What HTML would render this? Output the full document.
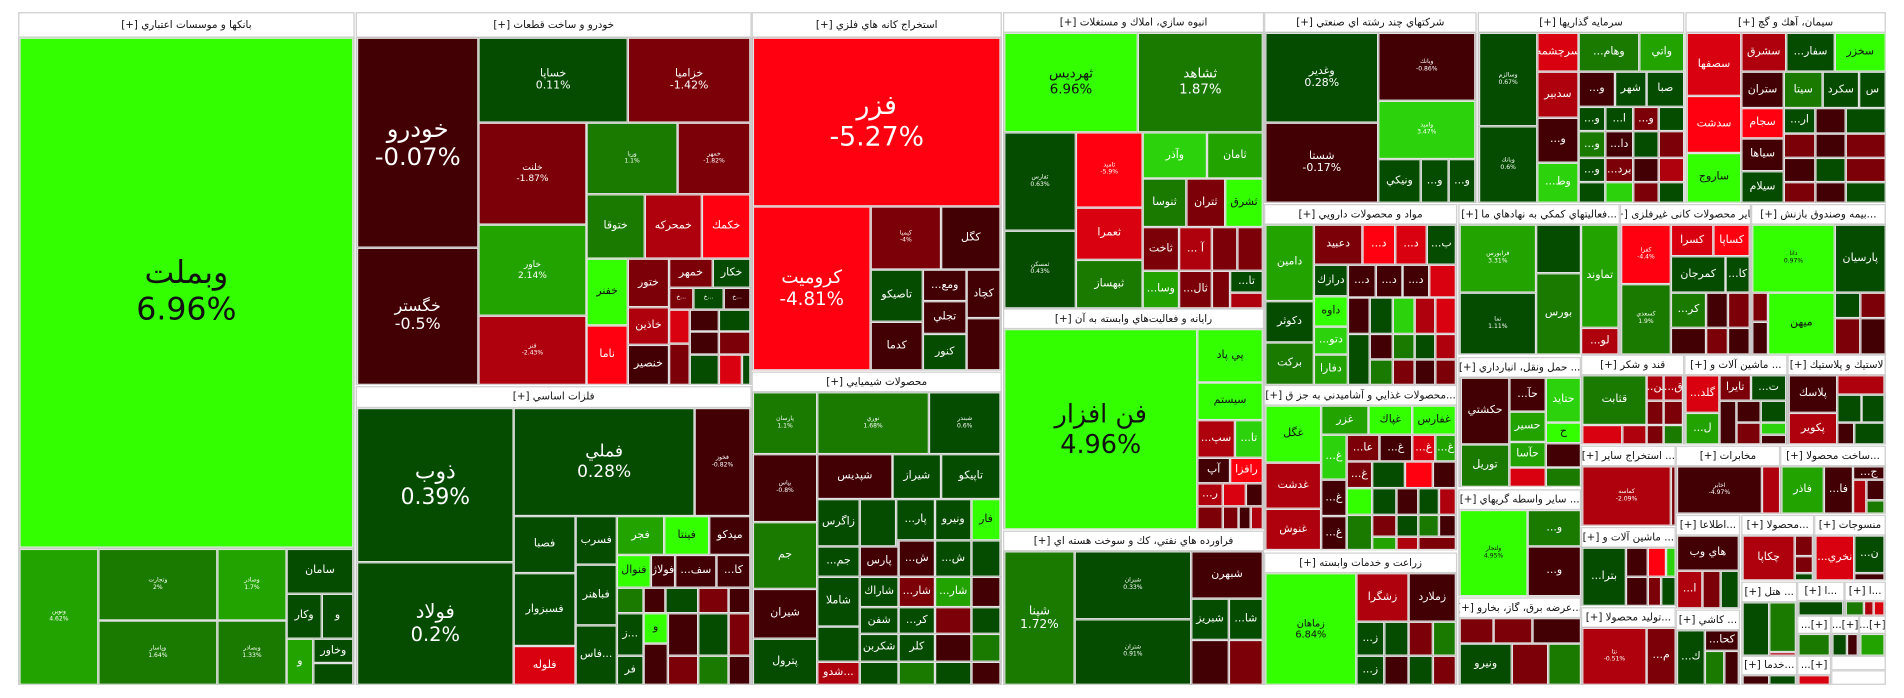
<!DOCTYPE html>
<html><head><meta charset="utf-8">
<style>
html,body{margin:0;padding:0;background:#fff;width:1904px;height:698px;overflow:hidden}
#w{position:absolute;left:0;top:0;width:1568px;height:575px;transform:scale(1.21429);transform-origin:0 0;font-family:"DejaVu Sans","Liberation Sans",sans-serif}
#w>div{position:absolute;box-sizing:border-box;left:calc(var(--a)*1px);top:calc(var(--b)*1px);width:calc((var(--c) - var(--a))*1px);height:calc((var(--d) - var(--b))*1px)}
.gp{background:#d4d4d4;border:1px solid #c8c8c8}
.h{background:#fff;border:1px solid #d0d0d0;color:#111;font-size:8.5px;display:flex;align-items:center;justify-content:center;direction:rtl;white-space:nowrap;overflow:hidden}
.t{border:1px solid #e2e2e2;color:#fff;display:flex;align-items:center;justify-content:center;text-align:center;overflow:hidden;font-size:9px;line-height:1.15;white-space:nowrap}
.t b{font-weight:normal}
.g1{background:#33ff00;color:#111}.g2{background:#2cd20c}.g3{background:#22a300}.g4{background:#1a7a00}.g5{background:#054c00}
.r1{background:#ff0011}.r2{background:#d9000f}.r3{background:#af000e}.r4{background:#7b0008}.r5{background:#420005}
.s{font-size:5px}
</style></head><body><div id="w">
<!-- group frames -->
<div class="gp" style="--a:15;--b:10;--c:292;--d:564"></div>
<div class="gp" style="--a:293;--b:10;--c:619;--d:317"></div>
<div class="gp" style="--a:293;--b:318;--c:619;--d:564"></div>
<div class="gp" style="--a:619;--b:10;--c:825;--d:305"></div>
<div class="gp" style="--a:619;--b:306;--c:825;--d:564"></div>
<div class="gp" style="--a:826;--b:10;--c:1041;--d:254"></div>
<div class="gp" style="--a:826;--b:254;--c:1041;--d:436"></div>
<div class="gp" style="--a:826;--b:437;--c:1041;--d:564"></div>
<div class="gp" style="--a:1041;--b:10;--c:1216;--d:167"></div>
<div class="gp" style="--a:1217;--b:10;--c:1387;--d:167"></div>
<div class="gp" style="--a:1388;--b:10;--c:1553;--d:167"></div>
<div class="gp" style="--a:1041;--b:168;--c:1200;--d:317"></div>
<div class="gp" style="--a:1041;--b:317;--c:1200;--d:453"></div>
<div class="gp" style="--a:1041;--b:455;--c:1200;--d:564"></div>
<div class="gp" style="--a:1201;--b:168;--c:1334;--d:292"></div>
<div class="gp" style="--a:1334;--b:168;--c:1442;--d:292"></div>
<div class="gp" style="--a:1442;--b:168;--c:1553;--d:292"></div>
<div class="gp" style="--a:1201;--b:294;--c:1302;--d:401"></div>
<div class="gp" style="--a:1201;--b:403;--c:1302;--d:491"></div>
<div class="gp" style="--a:1201;--b:492;--c:1302;--d:564"></div>
<div class="gp" style="--a:1302;--b:292;--c:1387;--d:366"></div>
<div class="gp" style="--a:1387;--b:292;--c:1472;--d:366"></div>
<div class="gp" style="--a:1472;--b:292;--c:1553;--d:366"></div>
<div class="gp" style="--a:1302;--b:367;--c:1380;--d:433"></div>
<div class="gp" style="--a:1380;--b:367;--c:1466;--d:423"></div>
<div class="gp" style="--a:1466;--b:367;--c:1553;--d:423"></div>
<div class="gp" style="--a:1302;--b:434;--c:1380;--d:499"></div>
<div class="gp" style="--a:1302;--b:500;--c:1380;--d:564"></div>
<div class="gp" style="--a:1380;--b:424;--c:1433;--d:501"></div>
<div class="gp" style="--a:1380;--b:502;--c:1433;--d:564"></div>
<div class="gp" style="--a:1434;--b:424;--c:1494;--d:478"></div>
<div class="gp" style="--a:1494;--b:424;--c:1553;--d:478"></div>
<div class="gp" style="--a:1434;--b:479;--c:1480;--d:540"></div>
<div class="gp" style="--a:1434;--b:540;--c:1480;--d:564"></div>
<div class="gp" style="--a:1480;--b:479;--c:1519;--d:507"></div>
<div class="gp" style="--a:1519;--b:479;--c:1553;--d:507"></div>
<div class="gp" style="--a:1480;--b:507;--c:1508;--d:540"></div>
<div class="gp" style="--a:1508;--b:507;--c:1531;--d:540"></div>
<div class="gp" style="--a:1531;--b:507;--c:1553;--d:540"></div>
<div class="gp" style="--a:1480;--b:540;--c:1508;--d:564"></div>
<div class="gp" style="--a:1508;--b:540;--c:1553;--d:564"></div>

<!-- headers -->
<div class="h" style="--a:15;--b:10;--c:292;--d:31">بانكها و موسسات اعتباري [+]</div>
<div class="h" style="--a:293;--b:10;--c:619;--d:31">خودرو و ساخت قطعات [+]</div>
<div class="h" style="--a:293;--b:318;--c:619;--d:336">فلزات اساسي [+]</div>
<div class="h" style="--a:619;--b:10;--c:825;--d:31">استخراج كانه هاي فلزي [+]</div>
<div class="h" style="--a:619;--b:306;--c:825;--d:323">محصولات شيميايي [+]</div>
<div class="h" style="--a:826;--b:10;--c:1041;--d:27">انبوه سازي، املاك و مستغلات [+]</div>
<div class="h" style="--a:826;--b:254;--c:1041;--d:271">رايانه و فعاليت‌هاي وابسته به آن [+]</div>
<div class="h" style="--a:826;--b:437;--c:1041;--d:454">فراورده هاي نفتي، كك و سوخت هسته اي [+]</div>
<div class="h" style="--a:1041;--b:10;--c:1216;--d:27">شركتهاي چند رشته اي صنعتي [+]</div>
<div class="h" style="--a:1217;--b:10;--c:1387;--d:27">سرمايه گذاريها [+]</div>
<div class="h" style="--a:1388;--b:10;--c:1553;--d:27">سيمان، آهك و گچ [+]</div>
<div class="h" style="--a:1041;--b:168;--c:1200;--d:185">مواد و محصولات دارويي [+]</div>
<div class="h" style="--a:1041;--b:317;--c:1200;--d:334">...محصولات غذايي و آشاميدني به جز ق [+]</div>
<div class="h" style="--a:1041;--b:455;--c:1200;--d:472">زراعت و خدمات وابسته [+]</div>
<div class="h" style="--a:1201;--b:168;--c:1334;--d:185">...فعاليتهاي كمكي به نهادهاي ما [+]</div>
<div class="h" style="--a:1334;--b:168;--c:1442;--d:185">سایر محصولات کانی غیرفلزی [+]</div>
<div class="h" style="--a:1442;--b:168;--c:1553;--d:185">...بيمه وصندوق بازنش [+]</div>
<div class="h" style="--a:1201;--b:294;--c:1302;--d:311">... حمل ونقل، انبارداري [+]</div>
<div class="h" style="--a:1201;--b:403;--c:1302;--d:420">... ساير واسطه گريهاي [+]</div>
<div class="h" style="--a:1201;--b:492;--c:1302;--d:509">...عرضه برق، گاز، بخارو [+]</div>
<div class="h" style="--a:1302;--b:292;--c:1387;--d:309">قند و شكر [+]</div>
<div class="h" style="--a:1387;--b:292;--c:1472;--d:309">... ماشين آلات و [+]</div>
<div class="h" style="--a:1472;--b:292;--c:1553;--d:309">لاستيك و پلاستيك [+]</div>
<div class="h" style="--a:1302;--b:367;--c:1380;--d:384">... استخراج ساير [+]</div>
<div class="h" style="--a:1380;--b:367;--c:1466;--d:384">مخابرات [+]</div>
<div class="h" style="--a:1466;--b:367;--c:1553;--d:384">...ساخت محصولا [+]</div>
<div class="h" style="--a:1302;--b:434;--c:1380;--d:451">... ماشين آلات و [+]</div>
<div class="h" style="--a:1302;--b:500;--c:1380;--d:517">...توليد محصولا [+]</div>
<div class="h" style="--a:1380;--b:424;--c:1433;--d:441">...اطلاعا [+]</div>
<div class="h" style="--a:1380;--b:502;--c:1433;--d:519">... كاشي [+]</div>
<div class="h" style="--a:1434;--b:424;--c:1494;--d:441">...محصولا [+]</div>
<div class="h" style="--a:1494;--b:424;--c:1553;--d:441">منسوجات [+]</div>
<div class="h" style="--a:1434;--b:479;--c:1480;--d:496">... هتل [+]</div>
<div class="h" style="--a:1434;--b:540;--c:1480;--d:556">...خدما [+]</div>
<div class="h" style="--a:1480;--b:479;--c:1519;--d:495">...ا [+]</div>
<div class="h" style="--a:1519;--b:479;--c:1553;--d:495">...ا [+]</div>
<div class="h" style="--a:1480;--b:507;--c:1508;--d:522">[+]...</div>
<div class="h" style="--a:1508;--b:507;--c:1531;--d:522">[+]...</div>
<div class="h" style="--a:1531;--b:507;--c:1553;--d:522">[+]...</div>
<div class="h" style="--a:1480;--b:540;--c:1508;--d:556">[+]...</div>
<div class="h" style="--a:1508;--b:540;--c:1553;--d:552"></div>
<div class="h" style="--a:1508;--b:552;--c:1553;--d:564"></div>

<!-- banks -->
<div class="t g1" style="--a:16;--b:31;--c:291;--d:451"><b style="font-size:26px">وبملت<br>6.96%</b></div>
<div class="t g3 s" style="--a:16;--b:452;--c:81;--d:564">ونوين<br>4.62%</div>
<div class="t g4 s" style="--a:81;--b:452;--c:179;--d:511">وتجارت<br>2%</div>
<div class="t g4 s" style="--a:81;--b:511;--c:179;--d:564">وپاسار<br>1.64%</div>
<div class="t g3 s" style="--a:179;--b:452;--c:236;--d:511">وصادر<br>1.7%</div>
<div class="t g4 s" style="--a:179;--b:511;--c:236;--d:564">وبصادر<br>1.33%</div>
<div class="t g5" style="--a:236;--b:452;--c:291;--d:489">سامان</div>
<div class="t g5" style="--a:236;--b:489;--c:265;--d:526">وكار</div>
<div class="t g5" style="--a:265;--b:489;--c:291;--d:526">و</div>
<div class="t g3" style="--a:236;--b:526;--c:258;--d:564">و</div>
<div class="t g5" style="--a:258;--b:526;--c:291;--d:546">وخاور</div>
<div class="t g5" style="--a:258;--b:546;--c:291;--d:564"></div>

<!-- auto -->
<div class="t r5" style="--a:294;--b:31;--c:394;--d:204"><b style="font-size:20px">خودرو<br>-0.07%</b></div>
<div class="t r5" style="--a:294;--b:204;--c:394;--d:317"><b style="font-size:13px">خگستر<br>-0.5%</b></div>
<div class="t g5" style="--a:394;--b:31;--c:517;--d:101">خساپا<br>0.11%</div>
<div class="t r4" style="--a:517;--b:31;--c:618;--d:101">خزاميا<br>-1.42%</div>
<div class="t r4" style="--a:394;--b:101;--c:483;--d:185"><b style="font-size:7.5px">خلنت<br>-1.87%</b></div>
<div class="t g3" style="--a:394;--b:185;--c:483;--d:260"><b style="font-size:7.5px">خاور<br>2.14%</b></div>
<div class="t r3 s" style="--a:394;--b:260;--c:483;--d:317">فنر<br>-2.43%</div>
<div class="t g4 s" style="--a:483;--b:101;--c:558;--d:160">وريا<br>1.1%</div>
<div class="t r4 s" style="--a:558;--b:101;--c:618;--d:160">خمهر<br>-1.82%</div>
<div class="t g4" style="--a:483;--b:160;--c:531;--d:213">ختوقا</div>
<div class="t r3" style="--a:531;--b:160;--c:578;--d:213">خمحركه</div>
<div class="t r1" style="--a:578;--b:160;--c:618;--d:213">خكمك</div>
<div class="t g1" style="--a:483;--b:213;--c:517;--d:268">خفنر</div>
<div class="t r1" style="--a:483;--b:268;--c:517;--d:317">ناما</div>
<div class="t r4" style="--a:517;--b:213;--c:551;--d:253">ختور</div>
<div class="t r3" style="--a:517;--b:253;--c:551;--d:284">خاذين</div>
<div class="t r5" style="--a:517;--b:284;--c:551;--d:317">خنصير</div>
<div class="t r4" style="--a:551;--b:213;--c:587;--d:237">خمهر</div>
<div class="t g5" style="--a:587;--b:213;--c:618;--d:237">خكار</div>
<div class="t r4 s" style="--a:551;--b:237;--c:571;--d:255">خ...</div>
<div class="t g5 s" style="--a:571;--b:237;--c:596;--d:255">خ...</div>
<div class="t r5 s" style="--a:596;--b:237;--c:618;--d:255">خ...</div>
<div class="t r2" style="--a:551;--b:255;--c:568;--d:283"></div>
<div class="t r5" style="--a:568;--b:255;--c:592;--d:273"></div>
<div class="t g5" style="--a:592;--b:255;--c:618;--d:273"></div>
<div class="t r5" style="--a:568;--b:273;--c:592;--d:292"></div>
<div class="t r4" style="--a:592;--b:273;--c:618;--d:292"></div>
<div class="t r4" style="--a:551;--b:283;--c:568;--d:317"></div>
<div class="t g5" style="--a:568;--b:292;--c:592;--d:317"></div>
<div class="t r2" style="--a:592;--b:292;--c:611;--d:317"></div>
<div class="t g5" style="--a:611;--b:292;--c:618;--d:317"></div>

<!-- metals -->
<div class="t g5" style="--a:294;--b:336;--c:423;--d:463"><b style="font-size:18px">ذوب<br>0.39%</b></div>
<div class="t g5" style="--a:294;--b:463;--c:423;--d:564"><b style="font-size:16px">فولاد<br>0.2%</b></div>
<div class="t g5" style="--a:423;--b:336;--c:572;--d:425"><b style="font-size:14px">فملي<br>0.28%</b></div>
<div class="t r5 s" style="--a:572;--b:336;--c:618;--d:425">فخوز<br>-0.82%</div>
<div class="t g5" style="--a:423;--b:425;--c:474;--d:472">فصبا</div>
<div class="t g5" style="--a:423;--b:472;--c:474;--d:532">فسبزوار</div>
<div class="t r2" style="--a:423;--b:532;--c:474;--d:564">فلوله</div>
<div class="t g5" style="--a:474;--b:425;--c:508;--d:465">فسرب</div>
<div class="t g5" style="--a:474;--b:465;--c:508;--d:515">فباهنر</div>
<div class="t g5" style="--a:474;--b:515;--c:508;--d:564">فاس...</div>
<div class="t g3" style="--a:508;--b:425;--c:547;--d:457">فجر</div>
<div class="t g1" style="--a:547;--b:425;--c:584;--d:457">فينتا</div>
<div class="t r5" style="--a:584;--b:425;--c:618;--d:457">ميدكو</div>
<div class="t g1" style="--a:508;--b:457;--c:536;--d:484">فنوال</div>
<div class="t r5" style="--a:536;--b:457;--c:556;--d:484">فولاژ</div>
<div class="t r5" style="--a:556;--b:457;--c:590;--d:484">...سف</div>
<div class="t r5" style="--a:590;--b:457;--c:618;--d:484">...كا</div>
<div class="t g4" style="--a:508;--b:484;--c:530;--d:505"></div>
<div class="t r5" style="--a:530;--b:484;--c:548;--d:505"></div>
<div class="t g5" style="--a:548;--b:484;--c:575;--d:505"></div>
<div class="t r4" style="--a:575;--b:484;--c:600;--d:505"></div>
<div class="t r5" style="--a:600;--b:484;--c:618;--d:505"></div>
<div class="t g5" style="--a:508;--b:505;--c:530;--d:540">ز...</div>
<div class="t g1" style="--a:530;--b:505;--c:550;--d:530">و</div>
<div class="t r5" style="--a:550;--b:505;--c:575;--d:540"></div>
<div class="t g5" style="--a:575;--b:505;--c:600;--d:540"></div>
<div class="t r4" style="--a:600;--b:505;--c:618;--d:540"></div>
<div class="t g5" style="--a:508;--b:540;--c:530;--d:564">فر</div>
<div class="t r5" style="--a:530;--b:530;--c:550;--d:564"></div>
<div class="t r4" style="--a:550;--b:540;--c:575;--d:564"></div>
<div class="t g4" style="--a:575;--b:540;--c:600;--d:564"></div>
<div class="t r5" style="--a:600;--b:540;--c:618;--d:564"></div>

<!-- mining -->
<div class="t r1" style="--a:620;--b:31;--c:824;--d:170"><b style="font-size:22px">فزر<br>-5.27%</b></div>
<div class="t r1" style="--a:620;--b:170;--c:717;--d:305"><b style="font-size:15px">كروميت<br>-4.81%</b></div>
<div class="t r4 s" style="--a:717;--b:170;--c:775;--d:222">كيميا<br>-4%</div>
<div class="t r5" style="--a:775;--b:170;--c:824;--d:222">كگل</div>
<div class="t g5" style="--a:717;--b:222;--c:760;--d:265">تاصيكو</div>
<div class="t r5" style="--a:760;--b:222;--c:796;--d:248">...ومع</div>
<div class="t r5" style="--a:796;--b:222;--c:824;--d:262">كچاد</div>
<div class="t r5" style="--a:760;--b:248;--c:796;--d:275">تجلي</div>
<div class="t r5" style="--a:717;--b:265;--c:760;--d:305">كدما</div>
<div class="t g5" style="--a:760;--b:275;--c:796;--d:305">كنور</div>
<div class="t r5" style="--a:796;--b:262;--c:824;--d:305"></div>

<!-- chemicals -->
<div class="t g4 s" style="--a:620;--b:323;--c:673;--d:374">پارسان<br>1.1%</div>
<div class="t g4 s" style="--a:673;--b:323;--c:765;--d:374">نوري<br>1.68%</div>
<div class="t g5 s" style="--a:765;--b:323;--c:824;--d:374">شبندر<br>0.6%</div>
<div class="t r5 s" style="--a:620;--b:374;--c:673;--d:430">بپاس<br>-0.8%</div>
<div class="t g4" style="--a:620;--b:430;--c:673;--d:485">جم</div>
<div class="t r5" style="--a:620;--b:485;--c:673;--d:526">شيران</div>
<div class="t g5" style="--a:620;--b:526;--c:673;--d:564">پترول</div>
<div class="t r5" style="--a:673;--b:374;--c:735;--d:411">شپديس</div>
<div class="t g5" style="--a:735;--b:374;--c:775;--d:411">شيراز</div>
<div class="t g5" style="--a:775;--b:374;--c:824;--d:411">تاپيكو</div>
<div class="t g5" style="--a:673;--b:411;--c:708;--d:450">زاگرس</div>
<div class="t g5" style="--a:708;--b:411;--c:738;--d:450"></div>
<div class="t g5" style="--a:738;--b:411;--c:770;--d:445">...پار</div>
<div class="t g5" style="--a:770;--b:411;--c:800;--d:445">ونيرو</div>
<div class="t g1" style="--a:800;--b:411;--c:824;--d:445">فار</div>
<div class="t g5" style="--a:673;--b:450;--c:708;--d:475">...جم</div>
<div class="t g5" style="--a:673;--b:475;--c:708;--d:516">شاملا</div>
<div class="t g5" style="--a:673;--b:516;--c:708;--d:545"></div>
<div class="t r3" style="--a:673;--b:545;--c:708;--d:564">شدو...</div>
<div class="t r5" style="--a:708;--b:450;--c:740;--d:475">پارس</div>
<div class="t g5" style="--a:708;--b:475;--c:740;--d:500">شاراك</div>
<div class="t g5" style="--a:708;--b:500;--c:740;--d:522">شفن</div>
<div class="t g5" style="--a:708;--b:522;--c:740;--d:545">شكربن</div>
<div class="t g5" style="--a:708;--b:545;--c:740;--d:564"></div>
<div class="t r5" style="--a:740;--b:445;--c:770;--d:475">...ش</div>
<div class="t g5" style="--a:770;--b:445;--c:800;--d:475">...ش</div>
<div class="t g5" style="--a:800;--b:445;--c:824;--d:475"></div>
<div class="t r4" style="--a:740;--b:475;--c:770;--d:500">...شار</div>
<div class="t g3" style="--a:770;--b:475;--c:800;--d:500">...شار</div>
<div class="t r5" style="--a:800;--b:475;--c:824;--d:500"></div>
<div class="t g5" style="--a:740;--b:500;--c:770;--d:522">...كر</div>
<div class="t r4" style="--a:770;--b:500;--c:800;--d:522"></div>
<div class="t g5" style="--a:800;--b:500;--c:824;--d:522"></div>
<div class="t g5" style="--a:740;--b:522;--c:770;--d:545">كلر</div>
<div class="t r5" style="--a:770;--b:522;--c:800;--d:545"></div>
<div class="t g4" style="--a:800;--b:522;--c:824;--d:545"></div>
<div class="t g4" style="--a:740;--b:545;--c:770;--d:564"></div>
<div class="t g5" style="--a:770;--b:545;--c:800;--d:564"></div>
<div class="t r5" style="--a:800;--b:545;--c:824;--d:564"></div>

<!-- housing -->
<div class="t g1" style="--a:827;--b:27;--c:937;--d:109"><b style="font-size:11px">ثهرديس<br>6.96%</b></div>
<div class="t g4" style="--a:937;--b:27;--c:1040;--d:109"><b style="font-size:11px">ثشاهد<br>1.87%</b></div>
<div class="t g5 s" style="--a:827;--b:109;--c:886;--d:190">ثفارس<br>0.63%</div>
<div class="t g5 s" style="--a:827;--b:190;--c:886;--d:254">ثمسكن<br>0.43%</div>
<div class="t r1 s" style="--a:886;--b:109;--c:941;--d:171">ثامید<br>-5.9%</div>
<div class="t r2" style="--a:886;--b:171;--c:941;--d:214">ثعمرا</div>
<div class="t g4" style="--a:886;--b:214;--c:941;--d:254">ثبهساز</div>
<div class="t g2" style="--a:941;--b:109;--c:994;--d:147">وآذر</div>
<div class="t g3" style="--a:994;--b:109;--c:1040;--d:147">ثامان</div>
<div class="t g4" style="--a:941;--b:147;--c:977;--d:187">ثنوسا</div>
<div class="t r4" style="--a:977;--b:147;--c:1009;--d:187">ثتران</div>
<div class="t g1" style="--a:1009;--b:147;--c:1040;--d:187">ثشرق</div>
<div class="t r4" style="--a:941;--b:187;--c:971;--d:223">ثاخت</div>
<div class="t r3" style="--a:971;--b:187;--c:998;--d:223">... آ</div>
<div class="t r4" style="--a:998;--b:187;--c:1019;--d:223"></div>
<div class="t r4" style="--a:1019;--b:187;--c:1040;--d:223"></div>
<div class="t g3" style="--a:941;--b:223;--c:971;--d:254">...وسا</div>
<div class="t r4" style="--a:971;--b:223;--c:998;--d:254">...ثال</div>
<div class="t r4" style="--a:998;--b:223;--c:1013;--d:254"></div>
<div class="t g5" style="--a:1013;--b:223;--c:1040;--d:241">...تا</div>
<div class="t r3" style="--a:1013;--b:241;--c:1040;--d:254"></div>

<!-- rayane -->
<div class="t g1" style="--a:827;--b:271;--c:986;--d:436"><b style="font-size:21px">فن افزار<br>4.96%</b></div>
<div class="t g1" style="--a:986;--b:271;--c:1040;--d:315">پي پاد</div>
<div class="t g1" style="--a:986;--b:315;--c:1040;--d:346">سيستم</div>
<div class="t r3" style="--a:986;--b:346;--c:1017;--d:377">...سپ</div>
<div class="t g2" style="--a:1017;--b:346;--c:1040;--d:377">...تا</div>
<div class="t r5" style="--a:986;--b:377;--c:1013;--d:398">آپ</div>
<div class="t r1" style="--a:1013;--b:377;--c:1040;--d:398">رافزا</div>
<div class="t r3" style="--a:986;--b:398;--c:1007;--d:417">...ر</div>
<div class="t r2" style="--a:1007;--b:398;--c:1026;--d:417"></div>
<div class="t r5" style="--a:1026;--b:398;--c:1040;--d:417"></div>
<div class="t r4" style="--a:986;--b:417;--c:1007;--d:436"></div>
<div class="t r4" style="--a:1007;--b:417;--c:1020;--d:436"></div>
<div class="t r5" style="--a:1020;--b:417;--c:1030;--d:436"></div>
<div class="t r3" style="--a:1030;--b:417;--c:1040;--d:436"></div>

<!-- oil -->
<div class="t g4" style="--a:827;--b:454;--c:885;--d:564"><b style="font-size:10px">شپنا<br>1.72%</b></div>
<div class="t g5 s" style="--a:885;--b:454;--c:981;--d:510">شبران<br>0.33%</div>
<div class="t g5 s" style="--a:885;--b:510;--c:981;--d:564">شتران<br>0.91%</div>
<div class="t r5" style="--a:981;--b:454;--c:1040;--d:493">شبهرن</div>
<div class="t g5" style="--a:981;--b:493;--c:1012;--d:527">شبريز</div>
<div class="t g5" style="--a:1012;--b:493;--c:1040;--d:527">...شا</div>
<div class="t r5" style="--a:981;--b:527;--c:1012;--d:564"></div>
<div class="t r4" style="--a:1012;--b:527;--c:1040;--d:564"></div>

<!-- multi -->
<div class="t g5" style="--a:1042;--b:27;--c:1135;--d:101">وغدير<br>0.28%</div>
<div class="t r5 s" style="--a:1135;--b:27;--c:1215;--d:83">وبانك<br>-0.86%</div>
<div class="t r5" style="--a:1042;--b:101;--c:1135;--d:167">شستا<br>-0.17%</div>
<div class="t g2 s" style="--a:1135;--b:83;--c:1215;--d:131">واميد<br>3.47%</div>
<div class="t g5" style="--a:1135;--b:131;--c:1170;--d:167">ونيكي</div>
<div class="t g5" style="--a:1170;--b:131;--c:1193;--d:167">...و</div>
<div class="t g5" style="--a:1193;--b:131;--c:1215;--d:167">...و</div>

<!-- invest -->
<div class="t g5 s" style="--a:1218;--b:27;--c:1266;--d:104">وسالزم<br>0.67%</div>
<div class="t g5 s" style="--a:1218;--b:104;--c:1266;--d:167">وبانك<br>0.6%</div>
<div class="t r2" style="--a:1266;--b:27;--c:1300;--d:59">سرچشمه</div>
<div class="t g4" style="--a:1300;--b:27;--c:1350;--d:59">...وهام</div>
<div class="t g3" style="--a:1350;--b:27;--c:1387;--d:59">واتي</div>
<div class="t r3" style="--a:1266;--b:59;--c:1300;--d:97">سدبير</div>
<div class="t r5" style="--a:1300;--b:59;--c:1330;--d:88">...و</div>
<div class="t g5" style="--a:1330;--b:59;--c:1356;--d:88">شهر</div>
<div class="t g5" style="--a:1356;--b:59;--c:1387;--d:88">صبا</div>
<div class="t r5" style="--a:1266;--b:97;--c:1300;--d:134">...و</div>
<div class="t g2" style="--a:1266;--b:134;--c:1300;--d:167">...وط</div>
<div class="t g5" style="--a:1300;--b:88;--c:1322;--d:108">...و</div>
<div class="t g5" style="--a:1322;--b:88;--c:1345;--d:108">...ا</div>
<div class="t r4" style="--a:1345;--b:88;--c:1366;--d:108">...و</div>
<div class="t g5" style="--a:1366;--b:88;--c:1387;--d:108"></div>
<div class="t g4" style="--a:1300;--b:108;--c:1322;--d:130">...و</div>
<div class="t r5" style="--a:1322;--b:108;--c:1345;--d:130">...دا</div>
<div class="t g5" style="--a:1345;--b:108;--c:1366;--d:130"></div>
<div class="t r4" style="--a:1366;--b:108;--c:1387;--d:130"></div>
<div class="t g5" style="--a:1300;--b:130;--c:1322;--d:150">...و</div>
<div class="t r4" style="--a:1322;--b:130;--c:1345;--d:150">...برد</div>
<div class="t r5" style="--a:1345;--b:130;--c:1366;--d:150"></div>
<div class="t r3" style="--a:1366;--b:130;--c:1387;--d:150"></div>
<div class="t g5" style="--a:1300;--b:150;--c:1322;--d:167"></div>
<div class="t g2" style="--a:1322;--b:150;--c:1345;--d:167"></div>
<div class="t r4" style="--a:1345;--b:150;--c:1366;--d:167"></div>
<div class="t g5" style="--a:1366;--b:150;--c:1387;--d:167"></div>

<!-- cement -->
<div class="t r2" style="--a:1389;--b:27;--c:1434;--d:79">سصفها</div>
<div class="t r3" style="--a:1434;--b:27;--c:1471;--d:59">سشرق</div>
<div class="t g5" style="--a:1471;--b:27;--c:1511;--d:59">...سفار</div>
<div class="t g1" style="--a:1511;--b:27;--c:1553;--d:59">سخزر</div>
<div class="t r5" style="--a:1434;--b:59;--c:1469;--d:89">ستران</div>
<div class="t g4" style="--a:1469;--b:59;--c:1501;--d:89">سيتا</div>
<div class="t g5" style="--a:1501;--b:59;--c:1531;--d:89">سكرد</div>
<div class="t g5" style="--a:1531;--b:59;--c:1553;--d:89">س</div>
<div class="t r1" style="--a:1389;--b:79;--c:1434;--d:126">سدشت</div>
<div class="t g1" style="--a:1389;--b:126;--c:1434;--d:167">ساروج</div>
<div class="t r1" style="--a:1434;--b:89;--c:1469;--d:114">سجام</div>
<div class="t r5" style="--a:1434;--b:114;--c:1469;--d:141">سياها</div>
<div class="t g5" style="--a:1434;--b:141;--c:1469;--d:167">سيلام</div>
<div class="t g5" style="--a:1469;--b:89;--c:1495;--d:110">...ار</div>
<div class="t r5" style="--a:1495;--b:89;--c:1520;--d:110"></div>
<div class="t g5" style="--a:1520;--b:89;--c:1553;--d:110"></div>
<div class="t r4" style="--a:1469;--b:110;--c:1495;--d:130"></div>
<div class="t r5" style="--a:1495;--b:110;--c:1520;--d:130"></div>
<div class="t r4" style="--a:1520;--b:110;--c:1553;--d:130"></div>
<div class="t r5" style="--a:1469;--b:130;--c:1495;--d:150"></div>
<div class="t g5" style="--a:1495;--b:130;--c:1520;--d:150"></div>
<div class="t r4" style="--a:1520;--b:130;--c:1553;--d:150"></div>
<div class="t r4" style="--a:1469;--b:150;--c:1495;--d:167"></div>
<div class="t r5" style="--a:1495;--b:150;--c:1520;--d:167"></div>
<div class="t g5" style="--a:1520;--b:150;--c:1553;--d:167"></div>

<!-- pharma -->
<div class="t g3" style="--a:1042;--b:185;--c:1082;--d:248">دامين</div>
<div class="t g5" style="--a:1042;--b:248;--c:1082;--d:282">دكوثر</div>
<div class="t g4" style="--a:1042;--b:282;--c:1082;--d:317">بركت</div>
<div class="t r4" style="--a:1082;--b:185;--c:1122;--d:218">دعبيد</div>
<div class="t r1" style="--a:1122;--b:185;--c:1149;--d:218">...د</div>
<div class="t r2" style="--a:1149;--b:185;--c:1175;--d:218">...د</div>
<div class="t g5" style="--a:1175;--b:185;--c:1199;--d:218">...ب</div>
<div class="t g5" style="--a:1082;--b:218;--c:1110;--d:244">درازك</div>
<div class="t g1" style="--a:1082;--b:244;--c:1110;--d:269">داوه</div>
<div class="t g2" style="--a:1082;--b:269;--c:1110;--d:292">...دتو</div>
<div class="t g3" style="--a:1082;--b:292;--c:1110;--d:317">دفارا</div>
<div class="t r5" style="--a:1110;--b:218;--c:1133;--d:245">...د</div>
<div class="t r5" style="--a:1133;--b:218;--c:1155;--d:245">...د</div>
<div class="t r5" style="--a:1155;--b:218;--c:1177;--d:245">...د</div>
<div class="t r2" style="--a:1177;--b:218;--c:1199;--d:245"></div>
<div class="t r5" style="--a:1110;--b:245;--c:1128;--d:275"></div>
<div class="t g5" style="--a:1128;--b:245;--c:1147;--d:275"></div>
<div class="t g2" style="--a:1147;--b:245;--c:1165;--d:275"></div>
<div class="t r3" style="--a:1165;--b:245;--c:1182;--d:275"></div>
<div class="t r2" style="--a:1182;--b:245;--c:1199;--d:275"></div>
<div class="t g5" style="--a:1110;--b:275;--c:1128;--d:317"></div>
<div class="t r5" style="--a:1128;--b:275;--c:1147;--d:296"></div>
<div class="t g4" style="--a:1147;--b:275;--c:1165;--d:296"></div>
<div class="t g5" style="--a:1165;--b:275;--c:1182;--d:296"></div>
<div class="t r3" style="--a:1182;--b:275;--c:1199;--d:296"></div>
<div class="t g4" style="--a:1128;--b:296;--c:1147;--d:317"></div>
<div class="t r4" style="--a:1147;--b:296;--c:1165;--d:317"></div>
<div class="t r5" style="--a:1165;--b:296;--c:1182;--d:317"></div>
<div class="t r4" style="--a:1182;--b:296;--c:1199;--d:317"></div>

<!-- food -->
<div class="t g1" style="--a:1042;--b:334;--c:1088;--d:381">غگل</div>
<div class="t r3" style="--a:1042;--b:381;--c:1088;--d:419">غدشت</div>
<div class="t r3" style="--a:1042;--b:419;--c:1088;--d:453">غنوش</div>
<div class="t g3" style="--a:1088;--b:334;--c:1127;--d:358">غزر</div>
<div class="t g1" style="--a:1127;--b:334;--c:1163;--d:358">غپاك</div>
<div class="t g1" style="--a:1163;--b:334;--c:1199;--d:358">غفارس</div>
<div class="t g2" style="--a:1088;--b:358;--c:1109;--d:395">...غ</div>
<div class="t r4" style="--a:1109;--b:358;--c:1136;--d:380">...عا</div>
<div class="t r5" style="--a:1136;--b:358;--c:1163;--d:380">...غ</div>
<div class="t r2" style="--a:1163;--b:358;--c:1182;--d:380">...غ</div>
<div class="t g3" style="--a:1182;--b:358;--c:1199;--d:380">...غ</div>
<div class="t r5" style="--a:1088;--b:395;--c:1109;--d:425">...غ</div>
<div class="t r5" style="--a:1088;--b:425;--c:1109;--d:453">...غ</div>
<div class="t r4" style="--a:1109;--b:380;--c:1130;--d:402">...غ</div>
<div class="t g5" style="--a:1130;--b:380;--c:1157;--d:402"></div>
<div class="t r1" style="--a:1157;--b:380;--c:1180;--d:402"></div>
<div class="t r5" style="--a:1180;--b:380;--c:1199;--d:402"></div>
<div class="t g1" style="--a:1109;--b:402;--c:1130;--d:424"></div>
<div class="t g5" style="--a:1130;--b:402;--c:1150;--d:424"></div>
<div class="t r5" style="--a:1150;--b:402;--c:1168;--d:424"></div>
<div class="t g5" style="--a:1168;--b:402;--c:1185;--d:424"></div>
<div class="t r3" style="--a:1185;--b:402;--c:1199;--d:424"></div>
<div class="t g4" style="--a:1109;--b:424;--c:1130;--d:453"></div>
<div class="t r4" style="--a:1130;--b:424;--c:1150;--d:442"></div>
<div class="t g5" style="--a:1150;--b:424;--c:1168;--d:442"></div>
<div class="t g4" style="--a:1168;--b:424;--c:1185;--d:442"></div>
<div class="t r5" style="--a:1185;--b:424;--c:1199;--d:442"></div>
<div class="t g3" style="--a:1130;--b:442;--c:1150;--d:453"></div>
<div class="t r3" style="--a:1150;--b:442;--c:1168;--d:453"></div>
<div class="t r4" style="--a:1168;--b:442;--c:1199;--d:453"></div>

<!-- zeraat -->
<div class="t g1" style="--a:1042;--b:472;--c:1117;--d:564"><b style="font-size:8px">زماهان<br>6.84%</b></div>
<div class="t r3" style="--a:1117;--b:472;--c:1160;--d:512">زشگرا</div>
<div class="t r5" style="--a:1160;--b:472;--c:1199;--d:512">زملارد</div>
<div class="t g5" style="--a:1117;--b:512;--c:1140;--d:540">...ز</div>
<div class="t g5" style="--a:1140;--b:512;--c:1160;--d:540"></div>
<div class="t r4" style="--a:1160;--b:512;--c:1180;--d:540"></div>
<div class="t g4" style="--a:1180;--b:512;--c:1199;--d:540"></div>
<div class="t g5" style="--a:1117;--b:540;--c:1140;--d:564">...ز</div>
<div class="t r5" style="--a:1140;--b:540;--c:1160;--d:564"></div>
<div class="t g5" style="--a:1160;--b:540;--c:1180;--d:564"></div>
<div class="t r4" style="--a:1180;--b:540;--c:1199;--d:564"></div>

<!-- komaki -->
<div class="t g3 s" style="--a:1202;--b:185;--c:1265;--d:241">فرابورس<br>3.31%</div>
<div class="t g5 s" style="--a:1202;--b:241;--c:1265;--d:292">نما<br>1.11%</div>
<div class="t g5" style="--a:1265;--b:185;--c:1302;--d:225"></div>
<div class="t g4" style="--a:1265;--b:225;--c:1302;--d:292">بورس</div>
<div class="t g3" style="--a:1302;--b:185;--c:1333;--d:270">تماوند</div>
<div class="t r3" style="--a:1302;--b:270;--c:1333;--d:292">...لو</div>

<!-- kani -->
<div class="t r1 s" style="--a:1335;--b:185;--c:1376;--d:234">كفرا<br>-4.4%</div>
<div class="t g4 s" style="--a:1335;--b:234;--c:1376;--d:292">كسعدي<br>1.9%</div>
<div class="t r2" style="--a:1376;--b:185;--c:1411;--d:211">كسرا</div>
<div class="t r1" style="--a:1411;--b:185;--c:1441;--d:211">كساپا</div>
<div class="t g5" style="--a:1376;--b:211;--c:1421;--d:241">كمرجان</div>
<div class="t g5" style="--a:1421;--b:211;--c:1441;--d:241">...كا</div>
<div class="t g4" style="--a:1376;--b:241;--c:1405;--d:270">...كر</div>
<div class="t r5" style="--a:1405;--b:241;--c:1423;--d:270"></div>
<div class="t r4" style="--a:1423;--b:241;--c:1441;--d:270"></div>
<div class="t r5" style="--a:1376;--b:270;--c:1405;--d:292"></div>
<div class="t r4" style="--a:1405;--b:270;--c:1423;--d:292"></div>
<div class="t r5" style="--a:1423;--b:270;--c:1441;--d:292"></div>

<!-- bimeh -->
<div class="t g1 s" style="--a:1443;--b:185;--c:1511;--d:241">دانا<br>0.97%</div>
<div class="t g5" style="--a:1511;--b:185;--c:1553;--d:241">پارسيان</div>
<div class="t r4" style="--a:1443;--b:241;--c:1456;--d:265"></div>
<div class="t r5" style="--a:1443;--b:265;--c:1456;--d:292"></div>
<div class="t g1" style="--a:1456;--b:241;--c:1511;--d:292">ميهن</div>
<div class="t g5" style="--a:1511;--b:241;--c:1532;--d:262"></div>
<div class="t r4" style="--a:1532;--b:241;--c:1553;--d:262"></div>
<div class="t r4" style="--a:1511;--b:262;--c:1532;--d:292"></div>
<div class="t r5" style="--a:1532;--b:262;--c:1553;--d:292"></div>

<!-- haml -->
<div class="t r5" style="--a:1203;--b:311;--c:1243;--d:366">حكشتي</div>
<div class="t g4" style="--a:1203;--b:366;--c:1243;--d:401">توريل</div>
<div class="t r5" style="--a:1243;--b:311;--c:1273;--d:339">...حآ</div>
<div class="t g3" style="--a:1243;--b:339;--c:1273;--d:364">حسير</div>
<div class="t g3" style="--a:1243;--b:364;--c:1273;--d:385">حآسا</div>
<div class="t r2" style="--a:1243;--b:385;--c:1273;--d:401"></div>
<div class="t g2" style="--a:1273;--b:311;--c:1302;--d:348">حتايد</div>
<div class="t g1" style="--a:1273;--b:348;--c:1302;--d:365">ح</div>
<div class="t r5" style="--a:1273;--b:365;--c:1302;--d:385"></div>
<div class="t g4" style="--a:1273;--b:385;--c:1302;--d:401"></div>

<!-- vaseteh -->
<div class="t g1 s" style="--a:1202;--b:420;--c:1258;--d:491">ولتجار<br>4.95%</div>
<div class="t g4" style="--a:1258;--b:420;--c:1302;--d:450">...و</div>
<div class="t r5" style="--a:1258;--b:450;--c:1302;--d:491">...و</div>

<!-- bargh -->
<div class="t r4" style="--a:1202;--b:509;--c:1230;--d:530"></div>
<div class="t r4" style="--a:1230;--b:509;--c:1262;--d:530"></div>
<div class="t r5" style="--a:1262;--b:509;--c:1302;--d:530"></div>
<div class="t g5" style="--a:1202;--b:530;--c:1245;--d:564">ونيرو</div>
<div class="t r4" style="--a:1245;--b:530;--c:1275;--d:564"></div>
<div class="t g4" style="--a:1275;--b:530;--c:1302;--d:564"></div>

<!-- ghand -->
<div class="t g4" style="--a:1303;--b:309;--c:1356;--d:350">قثابت</div>
<div class="t r3" style="--a:1356;--b:309;--c:1370;--d:330">...قن</div>
<div class="t r3" style="--a:1370;--b:309;--c:1386;--d:330">...ق</div>
<div class="t r4" style="--a:1356;--b:330;--c:1370;--d:350"></div>
<div class="t r4" style="--a:1370;--b:330;--c:1386;--d:350"></div>
<div class="t r2" style="--a:1303;--b:350;--c:1336;--d:366"></div>
<div class="t r3" style="--a:1336;--b:350;--c:1356;--d:366"></div>
<div class="t r4" style="--a:1356;--b:350;--c:1370;--d:366"></div>
<div class="t g4" style="--a:1370;--b:350;--c:1386;--d:366"></div>

<!-- mashin1 -->
<div class="t r2" style="--a:1388;--b:309;--c:1416;--d:340">...گلد</div>
<div class="t g3" style="--a:1388;--b:340;--c:1416;--d:366">...ل</div>
<div class="t r4" style="--a:1416;--b:309;--c:1442;--d:330">تايرا</div>
<div class="t g5" style="--a:1442;--b:309;--c:1471;--d:330">...ت</div>
<div class="t r5" style="--a:1416;--b:330;--c:1430;--d:366"></div>
<div class="t r5" style="--a:1430;--b:330;--c:1450;--d:348"></div>
<div class="t g5" style="--a:1450;--b:330;--c:1471;--d:348"></div>
<div class="t r4" style="--a:1430;--b:348;--c:1450;--d:366"></div>
<div class="t g2" style="--a:1450;--b:348;--c:1471;--d:358"></div>
<div class="t r5" style="--a:1450;--b:358;--c:1471;--d:366"></div>

<!-- lastik -->
<div class="t r5" style="--a:1473;--b:309;--c:1513;--d:340">پلاسك</div>
<div class="t r3" style="--a:1473;--b:340;--c:1513;--d:366">پكوير</div>
<div class="t r3" style="--a:1513;--b:309;--c:1552;--d:325"></div>
<div class="t g5" style="--a:1513;--b:325;--c:1533;--d:348"></div>
<div class="t g5" style="--a:1533;--b:325;--c:1552;--d:348"></div>
<div class="t r5" style="--a:1513;--b:348;--c:1527;--d:366"></div>
<div class="t g5" style="--a:1527;--b:348;--c:1552;--d:366"></div>

<!-- small right-bottom groups -->
<div class="t r3 s" style="--a:1303;--b:384;--c:1376;--d:433">كماسه<br>-2.09%</div>
<div class="t r4" style="--a:1376;--b:384;--c:1380;--d:433"></div>
<div class="t r5 s" style="--a:1381;--b:384;--c:1451;--d:423">اخابر<br>-4.97%</div>
<div class="t r3" style="--a:1451;--b:384;--c:1466;--d:423"></div>
<div class="t g3" style="--a:1467;--b:384;--c:1502;--d:423">فاذر</div>
<div class="t r5" style="--a:1502;--b:384;--c:1526;--d:423">...فا</div>
<div class="t r5" style="--a:1526;--b:384;--c:1552;--d:395">...ج</div>
<div class="t r3" style="--a:1526;--b:395;--c:1537;--d:423"></div>
<div class="t r5" style="--a:1537;--b:395;--c:1552;--d:412"></div>
<div class="t g4" style="--a:1537;--b:412;--c:1552;--d:423"></div>
<div class="t g5" style="--a:1303;--b:451;--c:1339;--d:499">...بترا</div>
<div class="t r5" style="--a:1339;--b:451;--c:1357;--d:475"></div>
<div class="t r1" style="--a:1357;--b:451;--c:1372;--d:475"></div>
<div class="t g2" style="--a:1372;--b:451;--c:1380;--d:475"></div>
<div class="t r5" style="--a:1339;--b:475;--c:1357;--d:499"></div>
<div class="t r4" style="--a:1357;--b:475;--c:1368;--d:499"></div>
<div class="t g5" style="--a:1368;--b:475;--c:1380;--d:499"></div>
<div class="t r3 s" style="--a:1303;--b:517;--c:1356;--d:564">نتا<br>-0.51%</div>
<div class="t r4" style="--a:1356;--b:517;--c:1380;--d:564">...م</div>
<div class="t r5" style="--a:1381;--b:441;--c:1432;--d:470">هاي وب</div>
<div class="t r3" style="--a:1381;--b:470;--c:1402;--d:501">...ا</div>
<div class="t r4" style="--a:1402;--b:470;--c:1417;--d:501"></div>
<div class="t g5" style="--a:1417;--b:470;--c:1432;--d:501"></div>
<div class="t g5" style="--a:1381;--b:519;--c:1404;--d:564">...ك</div>
<div class="t r5" style="--a:1404;--b:519;--c:1432;--d:536">...كحا</div>
<div class="t g4" style="--a:1404;--b:536;--c:1420;--d:564"></div>
<div class="t r5" style="--a:1420;--b:536;--c:1432;--d:564"></div>
<div class="t r3" style="--a:1435;--b:441;--c:1478;--d:478">چكاپا</div>
<div class="t r4" style="--a:1478;--b:441;--c:1493;--d:458"></div>
<div class="t r4" style="--a:1478;--b:458;--c:1493;--d:472"></div>
<div class="t g5" style="--a:1478;--b:472;--c:1493;--d:478"></div>
<div class="t r2" style="--a:1495;--b:441;--c:1527;--d:478">...نخري</div>
<div class="t g5" style="--a:1527;--b:441;--c:1552;--d:472">...ن</div>
<div class="t r5" style="--a:1527;--b:472;--c:1552;--d:478"></div>
<div class="t g5" style="--a:1435;--b:496;--c:1457;--d:540"></div>
<div class="t g4" style="--a:1457;--b:496;--c:1479;--d:537"></div>
<div class="t r3" style="--a:1457;--b:537;--c:1479;--d:540"></div>
<div class="t r5" style="--a:1435;--b:556;--c:1457;--d:564"></div>
<div class="t g5" style="--a:1457;--b:556;--c:1479;--d:564"></div>
<div class="t g5" style="--a:1481;--b:495;--c:1518;--d:507"></div>
<div class="t g4" style="--a:1520;--b:495;--c:1535;--d:507"></div>
<div class="t r3" style="--a:1535;--b:495;--c:1543;--d:507"></div>
<div class="t r2" style="--a:1543;--b:495;--c:1552;--d:507"></div>
<div class="t g4" style="--a:1481;--b:522;--c:1507;--d:540"></div>
<div class="t g5" style="--a:1509;--b:522;--c:1521;--d:540"></div>
<div class="t r5" style="--a:1521;--b:522;--c:1530;--d:540"></div>
<div class="t g3" style="--a:1532;--b:522;--c:1552;--d:540"></div>
<div class="t r2" style="--a:1481;--b:556;--c:1507;--d:564"></div>
</div></body></html>
